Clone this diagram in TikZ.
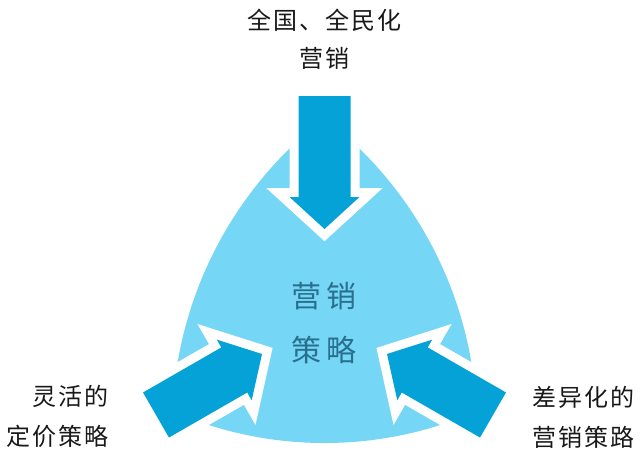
\documentclass[tikz,border=0pt]{standalone}
\usepackage{fontspec}
\newfontfamily\outerfont[LetterSpace=8.3]{Noto Sans CJK SC}
\newfontfamily\centerfont[LetterSpace=16.7]{Noto Sans CJK SC}
\usetikzlibrary{calc}
\definecolor{shapeblue}{RGB}{118,214,246}
\definecolor{arrowblue}{RGB}{5,162,216}
\definecolor{centertext}{RGB}{40,112,142}
\definecolor{outertext}{RGB}{25,25,25}
\tikzset{
  arrowbody/.style={fill=arrowblue, preaction={draw=white, line width=18pt, line join=miter}},
  outerlabel/.style={inner sep=0pt, text=outertext, font=\outerfont\fontsize{24}{40}\selectfont},
  centerlabel/.style={inner sep=0pt, text=centertext, align=center, font=\centerfont\fontsize{30}{54}\selectfont}
}
\newcommand\BlockArrow[2]{%
  \coordinate (#1h) at ($(#2)!32pt!(#1)$);
  \path[arrowbody] ($(#1)!26pt!90:(#2)$) -- ($(#1h)!26pt!90:(#2)$) -- ($(#1h)!35pt!90:(#2)$) -- (#2)
     -- ($(#1h)!35pt!-90:(#2)$) -- ($(#1h)!26pt!-90:(#2)$) -- ($(#1)!26pt!-90:(#2)$) -- cycle;
}
\begin{document}
\begin{tikzpicture}[x=1pt,y=-1pt]
\useasboundingbox (0,0) rectangle (640,464);
% curved triangle
\begin{scope}
  \clip (564.4,428.4) circle[radius=392.3pt];
  \clip (84.6,428.4) circle[radius=392.3pt];
  \fill[shapeblue] (324.5,64) circle[radius=379pt];
\end{scope}
% arrows
\coordinate (tT) at (324.5,96);  \coordinate (tP) at (324.5,229);
\coordinate (lT) at (156,415);   \coordinate (lP) at (262,354);
\coordinate (rT) at (493,415);   \coordinate (rP) at (387,354);
\BlockArrow{tT}{tP}
\BlockArrow{lT}{lP}
\BlockArrow{rT}{rP}
% labels
\node[outerlabel, align=center, font=\outerfont\fontsize{24}{38}\selectfont] (toplabel) at (324.5,39) {全国、全民化\\营销};
\node[outerlabel, align=right, anchor=east] (leftlabel) at (109,416) {灵活的\\定价策略};
\node[outerlabel, align=left, anchor=west] (rightlabel) at (532,417.5) {差异化的\\营销策路};
\node[centerlabel] (centerlabel) at (324.5,323) {营销\\策略};
\end{tikzpicture}
\end{document}
